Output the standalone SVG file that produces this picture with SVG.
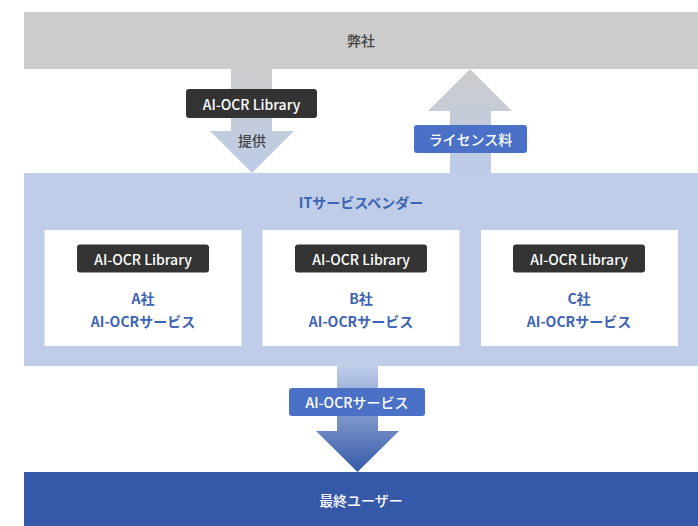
<svg xmlns="http://www.w3.org/2000/svg" width="698" height="526" viewBox="0 0 698 526">
<defs>
<linearGradient id="gDown" x1="0" y1="69" x2="0" y2="173" gradientUnits="userSpaceOnUse">
<stop offset="0" stop-color="#cccccc"/><stop offset="1" stop-color="#bccbe8"/>
</linearGradient>
<linearGradient id="gUp" x1="0" y1="69" x2="0" y2="173" gradientUnits="userSpaceOnUse">
<stop offset="0" stop-color="#cccccc"/><stop offset="1" stop-color="#bccbe8"/>
</linearGradient>
<linearGradient id="gBlue" x1="0" y1="366" x2="0" y2="472" gradientUnits="userSpaceOnUse">
<stop offset="0" stop-color="#bfcde9"/><stop offset="1" stop-color="#3559a8"/>
</linearGradient>
<style>
text{font-family:"Noto Sans CJK JP","Noto Sans",sans-serif;text-anchor:middle;dominant-baseline:central;font-size:14px;font-weight:500}
.w{fill:#ffffff}
.b{fill:#3d63b3;font-weight:700}
.g{fill:#444444}
.dark{fill:#333333}
.blue{fill:#4a71c6}
</style>
</defs>
<rect width="698" height="526" fill="#ffffff"/>
<g id="connectors">
<polygon points="231,69 272,69 272,131 294,131 252,173 210,131 231,131" fill="url(#gDown)"/>
<polygon points="470,69 512,111 491,111 491,173 450,173 450,111 428,111" fill="url(#gUp)"/>
<polygon points="337,366 378,366 378,431 399,431 357.5,472 316,431 337,431" fill="url(#gBlue)"/>
</g>
<g id="heisha">
<rect x="24" y="12" width="674" height="57" fill="#cccccc"/>
<text x="361" y="40" class="g">弊社</text>
</g>
<g id="label-provide">
<rect x="186" y="89" width="131" height="29" rx="3" class="dark"/>
<text x="251.5" y="103.5" class="w">AI-OCR Library</text>
<text x="252" y="140" class="g">提供</text>
</g>
<g id="label-license">
<rect x="414" y="125" width="113" height="28" rx="3" class="blue"/>
<text x="470.5" y="139" class="w">ライセンス料</text>
</g>
<g id="vendor">
<rect x="24" y="173" width="674" height="193" fill="#bfcde9"/>
<text x="361" y="202" class="b">ITサービスベンダー</text>
</g>
<g id="companyA">
<rect x="44.5" y="230" width="197" height="116" fill="#ffffff"/>
<rect x="77" y="244.5" width="132" height="28" rx="3" class="dark"/>
<text x="143" y="258.5" class="w">AI-OCR Library</text>
<text x="143" y="298" class="b">A社</text>
<text x="143" y="321" class="b">AI-OCRサービス</text>
</g>
<g id="companyB">
<rect x="262.5" y="230" width="197" height="116" fill="#ffffff"/>
<rect x="295" y="244.5" width="132" height="28" rx="3" class="dark"/>
<text x="361" y="258.5" class="w">AI-OCR Library</text>
<text x="361" y="298" class="b">B社</text>
<text x="361" y="321" class="b">AI-OCRサービス</text>
</g>
<g id="companyC">
<rect x="481" y="230" width="197" height="116" fill="#ffffff"/>
<rect x="513" y="244.5" width="132" height="28" rx="3" class="dark"/>
<text x="579" y="258.5" class="w">AI-OCR Library</text>
<text x="579" y="298" class="b">C社</text>
<text x="579" y="321" class="b">AI-OCRサービス</text>
</g>
<g id="label-service">
<rect x="289" y="388" width="136" height="28" rx="3" class="blue"/>
<text x="357" y="402" class="w">AI-OCRサービス</text>
</g>
<g id="enduser">
<rect x="24" y="472" width="674" height="54" fill="#3559a8"/>
<text x="361" y="500" class="w">最終ユーザー</text>
</g>
</svg>
